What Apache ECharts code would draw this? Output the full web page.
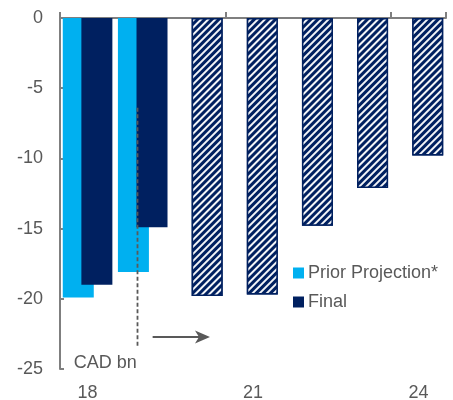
<!DOCTYPE html>
<html>
<head>
<meta charset="utf-8">
<style>
  html, body { margin: 0; padding: 0; background: #fff; }
  #chart { width: 453px; height: 400px; }
</style>
<script src="https://cdn.jsdelivr.net/npm/echarts@6/dist/echarts.min.js"></script>
</head>
<body>
<div id="chart"></div>
<script>
// Budget balance, CAD bn, fiscal years
const years = ['18', '19', '20', '21', '22', '23', '24'];
const priorProjection = [-19.9, -18.1, null, null, null, null, null];
const finalBalance = [-19.0, -14.9, -19.8, -19.7, -14.8, -12.1, -9.8];
const firstProjectedIndex = 2;          // Final values from here on are projections (hatched)
const yMin = -25, yMax = 0, yStep = 5;
const unitLabel = 'CAD bn';

// Annotation anchors in data units (x: category slots 0..7, y: CAD bn)
const dividerFrom = [1.40, -6.4];
const dividerTo = [1.40, -23.4];
const arrowFrom = [1.68, -22.75];
const arrowTo = [2.72, -22.75];
const unitAnchor = [0.25, -24.6];

const GREY = '#595959';
const AXIS = '#7f7f7f';
const LIGHT = '#00b0f0';
const NAVY = '#002060';
const FONT = '"Liberation Sans", Arial, sans-serif';

const hatch = {
  symbol: 'rect',
  symbolSize: 1,
  dashArrayX: [1, 0],
  dashArrayY: [1.9, 2.4],
  rotation: -Math.PI / 4,
  color: 'rgba(255,255,255,0.95)'
};

const finalData = finalBalance.map((v, i) => i < firstProjectedIndex
  ? v
  : { value: v, itemStyle: { color: NAVY, borderColor: NAVY, borderWidth: 1.5, decal: hatch } });

const chart = echarts.init(document.getElementById('chart'), null, { renderer: 'canvas' });

chart.setOption({
  animation: false,
  textStyle: { fontFamily: FONT },
  grid: { left: 60, right: 7, top: 18, bottom: 31, containLabel: false, outerBoundsMode: 'none' },
  legend: {
    orient: 'vertical',
    left: 288,
    top: 259,
    itemWidth: 11,
    itemHeight: 11,
    itemGap: 11,
    icon: 'rect',
    textStyle: { color: GREY, fontSize: 18, fontFamily: FONT, padding: [0, 0, 0, -1] },
    data: ['Prior Projection*', 'Final']
  },
  xAxis: [
    {
      type: 'category',
      data: years,
      position: 'top',
      axisLine: { show: true, onZero: false, lineStyle: { color: AXIS, width: 2 } },
      axisTick: { show: true, interval: 2, length: 6, lineStyle: { color: AXIS, width: 2 } },
      axisLabel: { show: false }
    },
    {
      type: 'category',
      data: years,
      position: 'bottom',
      axisLine: { show: false },
      axisTick: { show: false },
      axisLabel: { interval: 2, margin: 15, color: GREY, fontSize: 18, fontFamily: FONT }
    },
    {
      type: 'value',
      min: 0,
      max: years.length,
      show: false
    }
  ],
  yAxis: {
    type: 'value',
    min: yMin,
    max: yMax,
    interval: yStep,
    splitLine: { show: false },
    axisLine: { show: true, onZero: false, lineStyle: { color: AXIS, width: 2 } },
    axisTick: { show: true, inside: true, length: 4, lineStyle: { color: AXIS, width: 2 } },
    axisLabel: { color: GREY, fontSize: 18, fontFamily: FONT, margin: 17 }
  },
  series: [
    {
      name: 'Prior Projection*',
      type: 'bar',
      xAxisIndex: 0,
      data: priorProjection,
      barWidth: 31,
      barGap: '-40%',
      itemStyle: { color: LIGHT }
    },
    {
      name: 'Final',
      type: 'bar',
      xAxisIndex: 0,
      data: finalData,
      barWidth: 31,
      barGap: '-40%',
      itemStyle: { color: NAVY }
    }
  ]
});

// Divider, arrow and unit label, placed in data coordinates
function px(pt) {
  return chart.convertToPixel({ xAxisIndex: 2, yAxisIndex: 0 }, pt);
}
const d0 = px(dividerFrom), d1 = px(dividerTo);
const a0 = px(arrowFrom), a1 = px(arrowTo);
const u = px(unitAnchor);
const headLen = 15, headHalf = 6.5, notch = 4;
const ay = Math.round(a1[1]);

chart.setOption({
  graphic: [
    {
      type: 'line',
      shape: { x1: Math.round(d0[0]) + 0.5, y1: d0[1], x2: Math.round(d1[0]) + 0.5, y2: d1[1] },
      style: { stroke: GREY, lineWidth: 1.8, lineDash: [4, 2.5] },
      z: 10
    },
    {
      type: 'line',
      shape: { x1: a0[0], y1: ay, x2: a1[0] - headLen + notch + 1, y2: ay },
      style: { stroke: GREY, lineWidth: 2 },
      z: 10
    },
    {
      type: 'polygon',
      shape: {
        points: [
          [a1[0], ay],
          [a1[0] - headLen, ay - headHalf],
          [a1[0] - headLen + notch, ay],
          [a1[0] - headLen, ay + headHalf]
        ]
      },
      style: { fill: GREY },
      z: 10
    },
    {
      type: 'text',
      x: u[0],
      y: u[1],
      style: {
        text: unitLabel,
        fill: GREY,
        font: '18px ' + FONT,
        textAlign: 'left',
        textVerticalAlign: 'middle'
      },
      z: 10
    }
  ]
});
</script>
</body>
</html>
